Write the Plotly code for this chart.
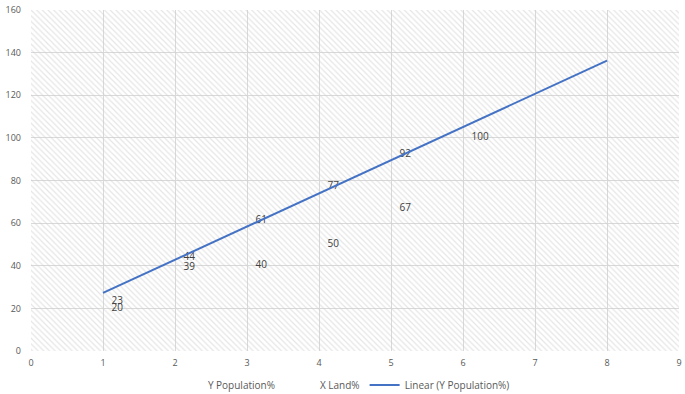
import numpy as np
import plotly.graph_objects as go

# ---- data ----
x_vals = [1, 2, 3, 4, 5, 6]
y_population = [23, 44, 61, 77, 92, 100]
x_land_x = [1, 2, 3, 4, 5]
x_land = [20, 39, 40, 50, 67]
forecast_forward = 2
x_range = [0, 9]
y_range = [0, 160]
x_ticks = list(range(0, 10))
y_ticks = list(range(0, 161, 20))

label_color = "#404040"
tick_color = "#595959"
font_family = "Open Sans"

# linear trendline (least squares) for Y Population%
slope, intercept = np.polyfit(x_vals, y_population, 1)
trend_x = np.array([min(x_vals), max(x_vals) + forecast_forward], dtype=float)
trend_y = slope * trend_x + intercept

fig = go.Figure()

# hatched plot-area background
fig.add_trace(go.Scatter(
    x=[x_range[0], x_range[1], x_range[1], x_range[0], x_range[0]],
    y=[y_range[0], y_range[0], y_range[1], y_range[1], y_range[0]],
    mode="lines", line=dict(width=0), fill="toself",
    fillcolor="rgba(0,0,0,0)",
    fillpattern=dict(shape="\\", fgcolor="#cccccc", bgcolor="rgba(0,0,0,0)",
                     size=4, solidity=0.3),
    hoverinfo="skip", showlegend=False,
))

fig.add_trace(go.Scatter(
    x=x_vals, y=y_population, name="Y Population%",
    mode="markers+text", text=[str(v) for v in y_population],
    textposition="middle right",
    textfont=dict(family=font_family, size=10, color=label_color),
    marker=dict(size=12, color="rgba(0,0,0,0)"),
))

fig.add_trace(go.Scatter(
    x=x_land_x, y=x_land, name="X Land%",
    mode="markers+text", text=[str(v) for v in x_land],
    textposition="middle right",
    textfont=dict(family=font_family, size=10, color=label_color),
    marker=dict(size=12, color="rgba(0,0,0,0)"),
))

fig.add_trace(go.Scatter(
    x=trend_x, y=trend_y, name="Linear (Y Population%)",
    mode="lines", line=dict(color="#4472C4", width=2),
))

fig.update_layout(
    width=685, height=394,
    margin=dict(l=31, r=6, t=10, b=43, autoexpand=False),
    paper_bgcolor="white", plot_bgcolor="white",
    font=dict(family=font_family, size=9, color=tick_color),
    legend=dict(orientation="h", x=0.479, xanchor="center",
                yref="container", y=0.023, yanchor="middle",
                font=dict(family=font_family, size=10, color=tick_color)),
    xaxis=dict(range=x_range, tickvals=x_ticks, showgrid=True, gridcolor="#d9d9d9",
               gridwidth=1, zeroline=False, showline=False, ticks="", automargin=False,
               ticklabelstandoff=5, ticklabeloverflow="allow",
               tickfont=dict(size=9, color=tick_color)),
    yaxis=dict(range=y_range, tickvals=y_ticks, showgrid=True, gridcolor="#d9d9d9",
               gridwidth=1, zeroline=False, showline=False, ticks="", automargin=False,
               ticklabelstandoff=9, ticklabeloverflow="allow",
               tickfont=dict(size=9, color=tick_color)),
)

fig.write_html("out.html", config={"displayModeBar": False},
               post_script="document.body.style.margin='0';document.body.style.padding='0';")
